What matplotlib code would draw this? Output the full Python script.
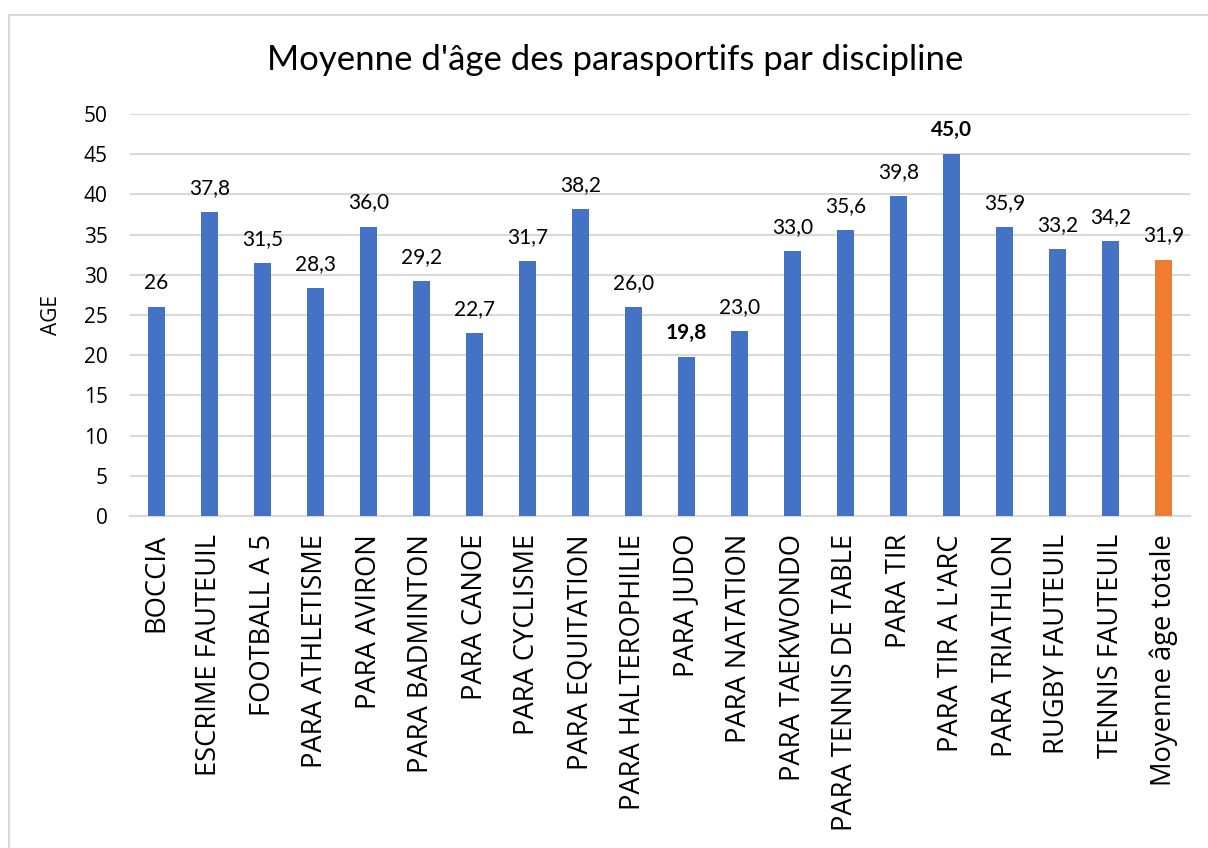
import matplotlib.pyplot as plt
from matplotlib.patches import Rectangle

categories = ["BOCCIA", "ESCRIME FAUTEUIL", "FOOTBALL A 5", "PARA ATHLETISME",
              "PARA AVIRON", "PARA BADMINTON", "PARA CANOE", "PARA CYCLISME",
              "PARA EQUITATION", "PARA HALTEROPHILIE", "PARA JUDO", "PARA NATATION",
              "PARA TAEKWONDO", "PARA TENNIS DE TABLE", "PARA TIR", "PARA TIR A L'ARC",
              "PARA TRIATHLON", "RUGBY FAUTEUIL", "TENNIS FAUTEUIL", "Moyenne âge totale"]
ages = [26, 37.8, 31.5, 28.3, 36.0, 29.2, 22.7, 31.7, 38.2, 26.0,
        19.8, 23.0, 33.0, 35.6, 39.8, 45.0, 35.9, 33.2, 34.2, 31.9]
labels = ["26"] + [f"{v:.1f}".replace(".", ",") for v in ages[1:]]
bold_labels = {10, 15}
yticks = [0, 5, 10, 15, 20, 25, 30, 35, 40, 45, 50]

blue = "#4472C4"
orange = "#ED7D31"
colors = [blue] * (len(ages) - 1) + [orange]

W, H = 1208, 848
fig = plt.figure(figsize=(W / 100, H / 100), dpi=100)
fig.patches.append(Rectangle((9 / W, -0.01), 1.0, 1 - 15 / H + 0.01,
                             transform=fig.transFigure, fill=False,
                             edgecolor="#D9D9D9", linewidth=1.5))

left, right, top, bottom = 130, 1190, 114, 516
ax = fig.add_axes([left / W, 1 - bottom / H, (right - left) / W, (bottom - top) / H])
x = range(len(categories))
ax.bar(x, ages, width=0.32, color=colors, zorder=3)

for i, (v, lab) in enumerate(zip(ages, labels)):
    ax.annotate(lab, (i, v), xytext=(0, 13), textcoords="offset points",
                ha="center", va="baseline", fontsize=15, family="Lato",
                fontweight="bold" if i in bold_labels else "normal")

ax.set_ylim(0, 50)
ax.set_xlim(-0.5, len(categories) - 0.5)
ax.set_yticks(yticks)
ax.yaxis.grid(True, color="#D9D9D9", linewidth=1.5, zorder=0)
ax.tick_params(axis="y", length=0, labelsize=15, pad=16)
ax.tick_params(axis="x", length=0, pad=13)
ax.set_xticks(list(x))
ax.set_xticklabels(categories, rotation=90, fontsize=19.7, family="Open Sans")
for lab in ax.get_yticklabels():
    lab.set_family("Open Sans")
for s in ["top", "right", "left"]:
    ax.spines[s].set_visible(False)
ax.spines["bottom"].set_color("#D9D9D9")
ax.spines["bottom"].set_linewidth(1.5)
ax.set_ylabel("AGE", fontsize=15, family="Open Sans")
ax.yaxis.set_label_coords((62 - left) / (right - left), 0.5)

fig.text(615 / W, 1 - 60 / H, "Moyenne d'âge des parasportifs par discipline",
         ha="center", va="center", fontsize=25, family="Lato")

fig.savefig("out.png", dpi=100)
